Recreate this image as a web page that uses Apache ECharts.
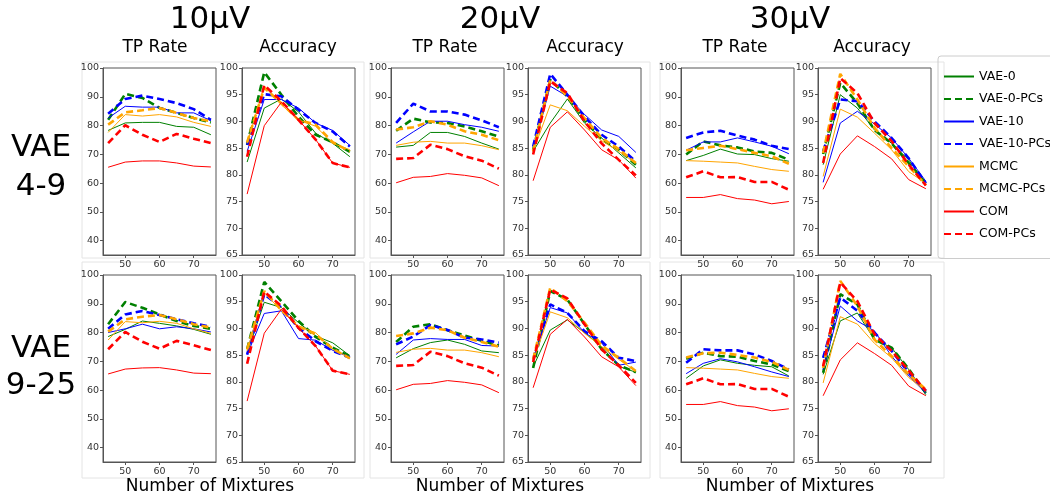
<!DOCTYPE html>
<html>
<head>
<meta charset="utf-8">
<script src="https://cdn.jsdelivr.net/npm/echarts@6/dist/echarts.min.js"></script>
<style>
  html, body { margin: 0; padding: 0; background: #fff; }
  #main { width: 1050px; height: 497px; }
</style>
</head>
<body>
<div id="main"></div>
<script>
// x values and method names
const mixtures = [45, 50, 55, 60, 65, 70, 75];
const methods = ['VAE-0', 'VAE-0-PCs', 'VAE-10', 'VAE-10-PCs', 'MCMC', 'MCMC-PCs', 'COM', 'COM-PCs'];
const xTicks = [50, 60, 70];
const tpTicks = [40, 50, 60, 70, 80, 90, 100];
const accTicks = [65, 70, 75, 80, 85, 90, 95, 100];
const noiseLabels = ['10µV', '20µV', '30µV'];

// each panel: rows in the order of methods
const tp10_vae49 = [
  [78.3, 80.9, 81.1, 81.1, 79.7, 79.4, 76.8],
  [82.0, 91.0, 89.6, 86.1, 84.4, 82.6, 81.1],
  [82.6, 86.7, 86.4, 86.4, 84.4, 84.4, 81.7],
  [84.1, 89.2, 90.4, 89.2, 87.8, 85.7, 82.0],
  [77.6, 83.8, 83.3, 83.8, 83.0, 81.1, 79.7],
  [80.3, 84.6, 85.3, 86.1, 84.4, 82.6, 81.5],
  [65.5, 67.3, 67.7, 67.7, 67.0, 65.9, 65.6],
  [73.9, 80.1, 76.8, 74.3, 77.1, 75.4, 73.9]
];
const acc10_vae49 = [
  [82.4, 92.5, 94.2, 91.8, 87.8, 85.9, 83.4],
  [85.6, 99.2, 95.0, 90.9, 87.5, 86.1, 84.3],
  [84.4, 94.1, 94.1, 92.5, 89.7, 88.3, 85.5],
  [85.6, 95.1, 94.7, 92.2, 89.7, 88.1, 85.3],
  [85.9, 96.6, 93.1, 90.3, 89.1, 85.9, 84.7],
  [86.1, 96.3, 93.4, 90.3, 89.4, 86.1, 84.4],
  [76.4, 89.2, 93.6, 90.3, 86.6, 82.2, 81.4],
  [83.4, 96.8, 93.8, 90.3, 86.6, 82.2, 81.4]
];
const tp20_vae49 = [
  [72.5, 73.1, 77.6, 77.6, 76.2, 73.9, 71.8],
  [78.2, 82.4, 81.1, 80.9, 79.7, 78.0, 76.2],
  [73.9, 77.8, 81.5, 81.5, 80.3, 79.4, 78.0],
  [80.9, 87.6, 84.9, 84.9, 83.8, 81.8, 79.4],
  [73.1, 74.2, 74.5, 73.9, 73.9, 73.0, 71.6],
  [78.6, 79.4, 81.5, 80.3, 78.0, 76.8, 74.9],
  [60.1, 62.0, 62.3, 63.3, 62.7, 61.8, 59.1],
  [68.4, 68.7, 73.3, 71.8, 69.3, 67.8, 65.0]
];
const acc20_vae49 = [
  [84.4, 89.7, 94.2, 89.7, 86.9, 84.1, 81.3],
  [84.7, 97.8, 94.7, 90.3, 86.6, 84.7, 81.9],
  [84.7, 96.6, 94.7, 91.3, 88.4, 87.2, 84.2],
  [85.3, 98.9, 95.0, 90.9, 87.5, 85.3, 82.5],
  [84.4, 93.1, 92.0, 89.1, 86.4, 84.4, 82.2],
  [84.4, 97.8, 94.7, 90.6, 86.9, 84.8, 82.2],
  [78.9, 88.9, 91.8, 88.4, 84.7, 82.8, 79.4],
  [83.8, 97.5, 95.3, 90.0, 85.9, 82.8, 79.9]
];
const tp30_vae49 = [
  [67.8, 69.6, 71.8, 70.1, 69.9, 68.5, 67.6],
  [69.9, 74.5, 73.1, 72.4, 71.0, 70.5, 68.1],
  [71.4, 74.3, 74.3, 75.7, 74.3, 72.8, 70.2],
  [75.7, 77.6, 78.2, 76.5, 75.1, 73.0, 71.8],
  [67.8, 67.6, 67.3, 67.0, 65.8, 64.7, 64.1],
  [71.4, 72.2, 73.0, 71.8, 70.5, 69.3, 66.7],
  [55.0, 55.0, 56.0, 54.6, 54.1, 52.8, 53.6],
  [62.0, 64.1, 62.0, 62.1, 60.4, 60.4, 57.7]
];
const acc30_vae49 = [
  [81.9, 95.0, 92.5, 88.4, 85.9, 82.8, 78.3],
  [83.9, 97.2, 93.4, 88.4, 85.9, 82.2, 78.4],
  [78.6, 89.7, 91.9, 89.5, 86.9, 83.1, 78.8],
  [84.4, 94.1, 93.8, 90.0, 86.9, 83.1, 78.4],
  [79.7, 92.3, 90.8, 87.8, 84.7, 80.6, 78.4],
  [84.1, 98.9, 94.1, 88.8, 85.0, 81.6, 78.1],
  [77.3, 83.9, 87.3, 85.3, 83.0, 79.1, 77.4],
  [82.2, 98.1, 95.3, 89.7, 86.3, 81.9, 78.0]
];
const tp10_vae925 = [
  [78.6, 81.1, 84.0, 83.2, 82.3, 81.1, 79.4],
  [82.9, 90.6, 88.6, 86.3, 84.0, 82.3, 81.3],
  [80.0, 81.3, 82.9, 81.3, 82.0, 81.3, 80.2],
  [81.3, 86.3, 87.5, 86.1, 84.6, 83.2, 82.0],
  [77.4, 83.8, 83.4, 83.9, 83.2, 81.3, 79.7],
  [80.3, 84.6, 85.5, 86.1, 84.6, 82.9, 81.7],
  [65.6, 67.3, 67.7, 67.8, 67.0, 65.9, 65.7],
  [74.2, 80.2, 76.8, 74.4, 77.1, 75.6, 73.9]
];
const acc10_vae925 = [
  [85.4, 94.9, 93.9, 91.1, 88.6, 87.3, 84.9],
  [86.1, 98.7, 95.1, 91.4, 88.4, 86.4, 84.8],
  [85.1, 92.8, 93.3, 88.1, 87.8, 85.9, 84.6],
  [85.1, 96.4, 93.9, 90.1, 87.6, 85.8, 84.5],
  [85.8, 96.7, 93.3, 90.4, 89.2, 86.1, 84.5],
  [86.1, 97.0, 93.4, 90.4, 88.9, 86.2, 84.4],
  [76.4, 89.1, 93.6, 90.1, 86.7, 82.1, 81.4],
  [83.4, 96.9, 94.2, 90.1, 86.7, 82.1, 81.4]
];
const tp20_vae925 = [
  [71.2, 74.4, 76.5, 77.4, 75.9, 73.6, 73.0],
  [76.7, 82.0, 82.9, 80.8, 79.0, 77.1, 75.5],
  [72.4, 77.4, 77.9, 77.6, 77.6, 75.5, 75.3],
  [75.9, 78.6, 82.6, 80.9, 78.2, 77.6, 76.5],
  [73.1, 74.2, 74.5, 73.9, 73.9, 73.0, 71.6],
  [78.8, 79.7, 81.7, 80.8, 78.2, 76.7, 75.1],
  [60.1, 62.0, 62.3, 63.3, 62.7, 61.8, 59.1],
  [68.4, 68.7, 73.3, 71.8, 69.3, 67.8, 65.0]
];
const acc20_vae925 = [
  [82.8, 89.7, 91.6, 89.2, 86.6, 82.9, 81.8],
  [82.6, 97.0, 95.4, 90.8, 86.1, 83.1, 81.8],
  [84.2, 93.9, 92.9, 89.2, 87.3, 83.1, 83.7],
  [84.2, 94.5, 92.9, 89.5, 87.6, 84.5, 83.9],
  [83.9, 93.1, 92.0, 89.1, 86.6, 84.2, 82.0],
  [84.2, 97.6, 95.1, 91.1, 86.8, 84.5, 82.0],
  [78.9, 88.9, 91.7, 88.4, 84.7, 82.8, 79.3],
  [83.7, 97.3, 95.6, 90.8, 86.1, 83.1, 79.8]
];
const tp30_vae925 = [
  [64.1, 68.4, 70.5, 69.3, 68.6, 68.1, 64.9],
  [70.9, 73.0, 71.8, 71.6, 70.1, 68.9, 66.6],
  [65.7, 69.3, 70.9, 69.8, 68.1, 66.3, 64.7],
  [69.5, 74.2, 73.8, 73.8, 72.4, 70.1, 67.2],
  [67.8, 67.6, 67.3, 67.0, 65.8, 64.7, 64.1],
  [71.3, 72.8, 73.0, 72.2, 71.3, 69.8, 67.0],
  [55.0, 55.0, 56.0, 54.6, 54.1, 52.8, 53.5],
  [62.0, 64.1, 62.0, 62.1, 60.4, 60.4, 57.7]
];
const acc30_vae925 = [
  [81.4, 91.4, 92.9, 87.9, 86.4, 82.3, 77.6],
  [81.7, 96.4, 94.5, 87.9, 86.4, 82.4, 77.9],
  [82.3, 94.2, 91.4, 89.5, 84.8, 81.1, 77.9],
  [84.5, 95.8, 93.3, 89.2, 85.8, 81.7, 78.3],
  [79.8, 92.2, 90.8, 87.2, 84.5, 80.8, 78.3],
  [82.6, 98.9, 94.2, 87.9, 84.8, 81.4, 78.6],
  [77.4, 84.1, 87.3, 85.3, 83.1, 79.2, 77.4],
  [82.9, 98.6, 95.1, 88.9, 85.8, 82.1, 78.3]
];

const panels = [
  [tp10_vae49, acc10_vae49, tp20_vae49, acc20_vae49, tp30_vae49, acc30_vae49],
  [tp10_vae925, acc10_vae925, tp20_vae925, acc20_vae925, tp30_vae925, acc30_vae925]
];

const colors = ['#008000', '#008000', '#0000ff', '#0000ff', '#ffa500', '#ffa500', '#ff0000', '#ff0000'];
const font = 'DejaVu Sans';
const colLeft = [103, 242, 391, 528, 681, 818];
const rowTop = [68, 275];
const plotW = 113, plotH = 187;

let chart = echarts.init(document.getElementById('main'));

let grids = [], xAxes = [], yAxes = [], series = [];
panels.forEach(function (row, r) {
  row.forEach(function (panel, c) {
    let idx = grids.length;
    let isTP = c % 2 === 0;
    grids.push({
      left: colLeft[c], top: rowTop[r], width: plotW, height: plotH,
      show: true, borderColor: '#555', borderWidth: 1, backgroundColor: '#fff'
    });
    xAxes.push({
      gridIndex: idx, type: 'value', min: 43.5, max: 76.5,
      axisLine: { lineStyle: { color: '#555' } },
      axisTick: { customValues: xTicks, length: 3, lineStyle: { color: '#555' } },
      axisLabel: { customValues: xTicks, fontFamily: font, fontSize: 9.5, color: '#333', margin: 5 },
      splitLine: { show: false }
    });
    yAxes.push({
      gridIndex: idx, type: 'value',
      min: isTP ? 35 : 65, max: 100,
      axisLine: { show: true, lineStyle: { color: '#555' } },
      axisTick: { show: true, customValues: isTP ? tpTicks : accTicks, length: 3, lineStyle: { color: '#555' } },
      axisLabel: { customValues: isTP ? tpTicks : accTicks, fontFamily: font, fontSize: 9.5, color: '#333', margin: 4 },
      splitLine: { show: false }
    });
    panel.forEach(function (vals, k) {
      let dashed = k % 2 === 1;
      series.push({
        name: methods[k], type: 'line',
        xAxisIndex: idx, yAxisIndex: idx,
        symbol: 'none', animation: false,
        data: mixtures.map(function (m, i) { return [m, vals[i]]; }),
        lineStyle: { color: colors[k], width: dashed ? 2.6 : 1, type: dashed ? [7, 4] : 'solid' },
        itemStyle: { color: colors[k] }
      });
    });
  });
});

let texts = [];
let groupCenter = [210, 500, 790];
let subCenter = [155, 298, 445, 585, 735, 872];
noiseLabels.forEach(function (t, i) {
  texts.push({
    type: 'text', x: groupCenter[i], y: 20,
    style: { text: t, font: '31px "DejaVu Sans"', fill: '#000', align: 'center', verticalAlign: 'middle' }
  });
  texts.push({
    type: 'text', x: groupCenter[i], y: 487,
    style: { text: 'Number of Mixtures', font: '17px "DejaVu Sans"', fill: '#000', align: 'center', verticalAlign: 'middle' }
  });
});
subCenter.forEach(function (x, i) {
  texts.push({
    type: 'text', x: x, y: 48,
    style: { text: i % 2 === 0 ? 'TP Rate' : 'Accuracy', font: '17px "DejaVu Sans"', fill: '#000', align: 'center', verticalAlign: 'middle' }
  });
});
[['VAE', 148], ['4-9', 187], ['VAE', 349], ['9-25', 386]].forEach(function (p) {
  texts.push({
    type: 'text', x: 41, y: p[1],
    style: { text: p[0], font: '31px "DejaVu Sans"', fill: '#000', align: 'center', verticalAlign: 'middle' }
  });
});
// faint sub-figure frames
[[82, 62, 282, 196], [82, 262, 282, 216], [370, 62, 280, 196], [370, 262, 280, 216], [660, 62, 284, 196], [660, 262, 284, 216]].forEach(function (b) {
  texts.push({
    type: 'rect', shape: { x: b[0], y: b[1], width: b[2], height: b[3] }, z: -1,
    style: { fill: 'none', stroke: '#e4e4e4', lineWidth: 1 }
  });
});

chart.setOption({
  animation: false,
  backgroundColor: '#fff',
  grid: grids,
  xAxis: xAxes,
  yAxis: yAxes,
  series: series,
  legend: {
    data: methods, orient: 'vertical', left: 938, top: 56,
    itemWidth: 30, itemHeight: 10, itemGap: 9.5,
    padding: [14, 30, 18, 5],
    itemStyle: { opacity: 0 },
    borderColor: '#ccc', borderWidth: 1, borderRadius: 3,
    textStyle: { fontFamily: font, fontSize: 12.5, color: '#000' }
  },
  graphic: texts
});
</script>
</body>
</html>
